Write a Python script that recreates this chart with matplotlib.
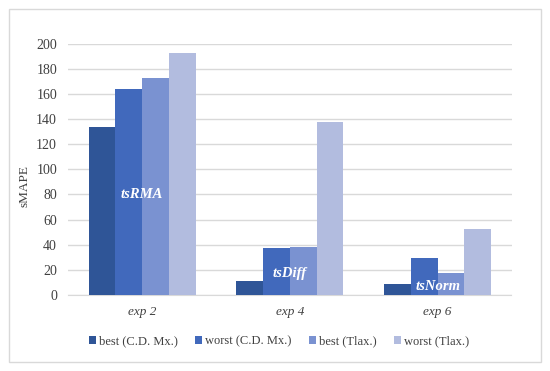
import numpy as np
import matplotlib.pyplot as plt
from matplotlib.patches import Rectangle

plt.rcParams['font.family'] = ['Liberation Serif', 'DejaVu Serif']

experiments = ['exp 2', 'exp 4', 'exp 6']
series_names = ['best (C.D. Mx.)', 'worst (C.D. Mx.)', 'best (Tlax.)', 'worst (Tlax.)']
best_cd = [134, 11, 9]
worst_cd = [164, 37, 29.5]
best_tlax = [173, 38, 17.5]
worst_tlax = [193, 138, 52.5]
labels = ['tsRMA', 'tsDiff', 'tsNorm']
label_y = [80, 17, 7]
y_ticks = np.arange(0, 201, 20)

colors = ['#2F5597', '#4169BC', '#7A92D1', '#B2BCDF']
series = [best_cd, worst_cd, best_tlax, worst_tlax]

fig = plt.figure(figsize=(5.5, 3.71), dpi=100)
fig.patches.append(Rectangle((0.017, 0.024), 0.966, 0.952, transform=fig.transFigure,
                             fill=False, edgecolor='#D9D9D9', linewidth=1))
ax = fig.add_axes([0.124, 0.205, 0.806, 0.677])

x = np.arange(len(experiments))
w = 0.181
for i, (vals, name) in enumerate(zip(series, series_names)):
    ax.bar(x + (i - 1.5) * w, vals, width=w, color=colors[i], label=name, zorder=3)

for xi, lab, ly in zip(x, labels, label_y):
    ax.text(xi, ly, lab, color='white', fontsize=10.5, fontweight='bold', fontstyle='italic',
            ha='center', va='center', zorder=4)

ax.set_xlim(-0.5, 2.5)
ax.set_ylim(0, 200)
ax.set_yticks(y_ticks)
ax.set_xticks(x)
ax.set_xticklabels(experiments, fontstyle='italic', fontsize=9.5, color='#404040')
ax.tick_params(axis='y', labelsize=10, labelcolor='#404040', length=0, pad=8)
ax.tick_params(axis='x', length=0, pad=8)
ax.grid(axis='y', color='#D9D9D9', linewidth=1, zorder=0)
for s in ['top', 'right', 'left']:
    ax.spines[s].set_visible(False)
ax.spines['bottom'].set_color('#D9D9D9')
ax.set_ylabel('sMAPE', fontsize=9.5, color='#404040')
ax.yaxis.set_label_coords(-0.085, 0.434)

ax.legend(loc='center', bbox_to_anchor=(0.476, -0.184), ncol=4, frameon=False,
          fontsize=9, handlelength=0.55, handleheight=0.55, handletextpad=0.25,
          columnspacing=1.4, labelcolor='#404040')

fig.savefig('out.png', dpi=100)
